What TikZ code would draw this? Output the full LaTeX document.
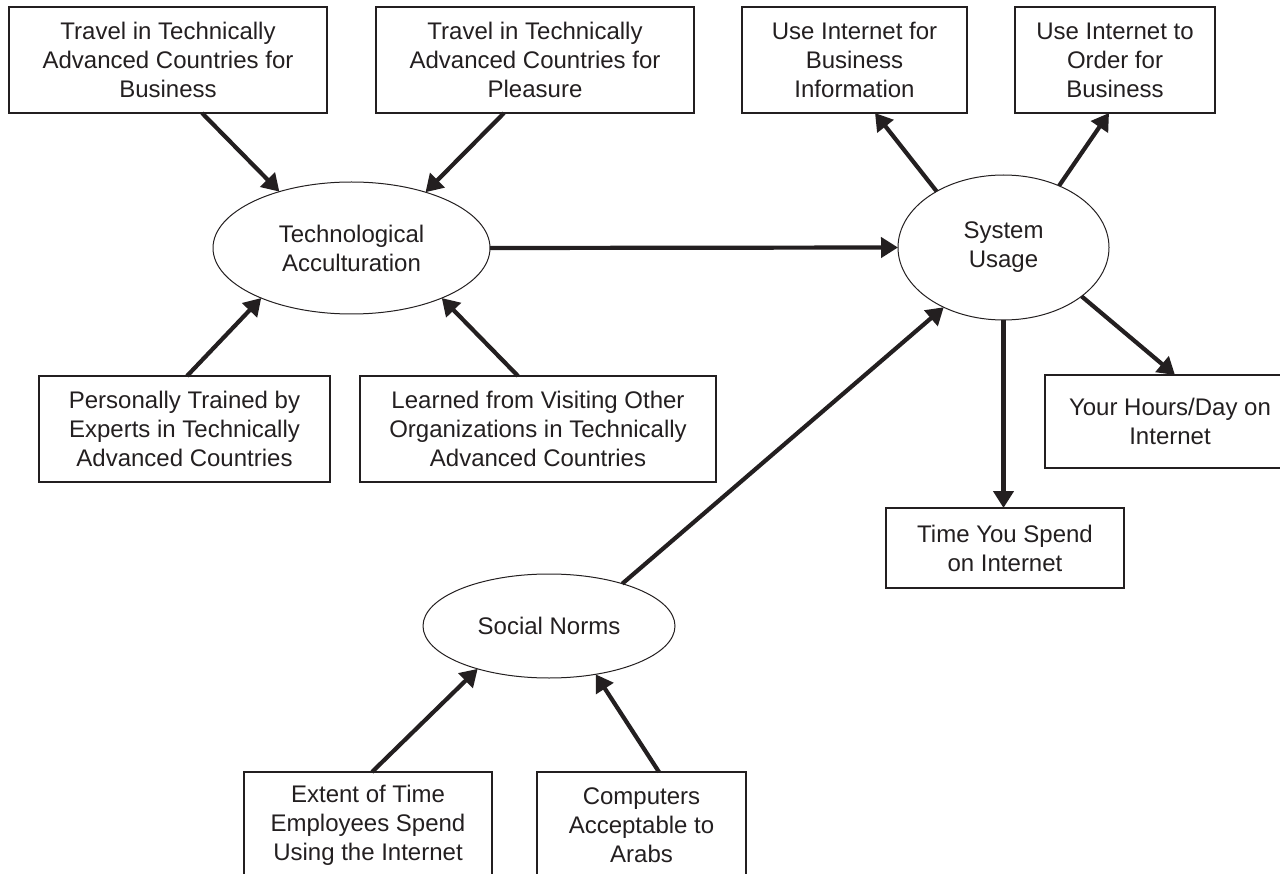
\documentclass[tikz,border=0pt]{standalone}
\usepackage{fontspec}
\setmainfont{Liberation Sans}
\usetikzlibrary{arrows.meta,shapes.geometric}
\definecolor{ink}{HTML}{231F20}
\begin{document}
\begin{tikzpicture}[x=1pt,y=-1pt,
  every node/.style={text=ink, font=\fontsize{24}{29}\selectfont, align=center,
    inner sep=0pt, outer sep=0pt},
  box/.style={draw=ink, line width=1.2pt, rectangle},
  latent/.style={draw=ink, line width=1pt, ellipse},
  link/.style={draw=ink, line width=4.2pt, -{Triangle[length=17pt,width=20pt]}},
]
\useasboundingbox (0,0) rectangle (1280,874);

% indicators of technological acculturation
\node[box, minimum width=318pt, minimum height=106pt] (b1) at (168,60)
  {Travel in Technically\\Advanced Countries for\\Business};
\node[box, minimum width=318pt, minimum height=106pt] (b2) at (535,60)
  {Travel in Technically\\Advanced Countries for\\Pleasure};
\node[box, minimum width=291pt, minimum height=106pt] (b5) at (184.5,429)
  {Personally Trained by\\Experts in Technically\\Advanced Countries};
\node[box, minimum width=356pt, minimum height=106pt] (b6) at (538,429)
  {Learned from Visiting Other\\Organizations in Technically\\Advanced Countries};

% indicators of system usage
\node[box, minimum width=225pt, minimum height=106pt] (b3) at (854.5,60)
  {Use Internet for\\Business\\Information};
\node[box, minimum width=200pt, minimum height=106pt] (b4) at (1115,60)
  {Use Internet to\\Order for\\Business};
\node[box, minimum width=250pt, minimum height=93pt] (hr) at (1170,421.5)
  {Your Hours/Day on\\Internet};
\node[box, minimum width=238pt, minimum height=80pt] (tm) at (1005,548)
  {Time You Spend\\on Internet};

% indicators of social norms
\node[box, minimum width=248pt, minimum height=106pt] (b7) at (368,825)
  {Extent of Time\\Employees Spend\\Using the Internet};
\node[box, minimum width=209pt, minimum height=106pt] (b8) at (641.5,825)
  {Computers\\Acceptable to\\Arabs};

% latent constructs
\node[latent, minimum width=277pt, minimum height=132pt] (ta) at (351.5,248)
  {Technological\\Acculturation};
\node[latent, minimum width=211pt, minimum height=145pt] (su) at (1003.5,247.5)
  {System\\Usage};
\node[latent, minimum width=252pt, minimum height=104pt] (sn) at (549,626)
  {Social Norms};

% paths
\draw[link] ([xshift=34pt]b1.south) -- (ta.142);
\draw[link] ([xshift=-31pt]b2.south) -- (ta.37);
\draw[link] ([xshift=2.5pt]b5.north) -- (ta.209);
\draw[link] ([xshift=-20pt]b6.north) -- (ta.331);
\draw[link] (ta.east) -- (su.west);
\draw[link] (su.140) -- ([xshift=20.5pt]b3.south);
\draw[link] (su.48) -- ([xshift=-6pt]b4.south);
\draw[link] (su.328) -- ([xshift=5pt]hr.north);
\draw[link] (su.south) -- (su.south |- tm.north);
\draw[link] (sn.30) -- (su.225);
\draw[link] ([xshift=4pt]b7.north) -- (sn.211);
\draw[link] ([xshift=17.5pt]b8.north) -- (sn.314);
\end{tikzpicture}
\end{document}
